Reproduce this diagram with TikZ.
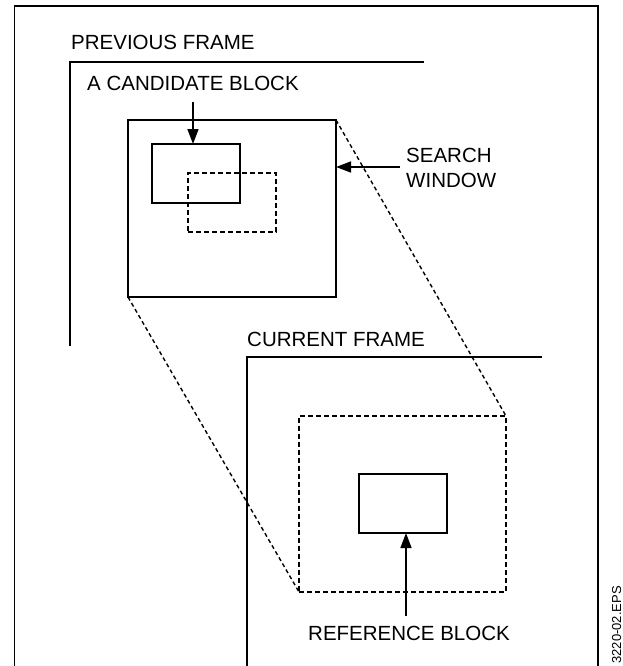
\documentclass[tikz,border=0pt]{standalone}
\usepackage{fontspec}
\setmainfont{Liberation Sans}
\usetikzlibrary{arrows.meta}
\begin{document}
\begin{tikzpicture}[x=1pt,y=-1pt,
  frame/.style={line width=1.6pt},
  box/.style={draw,line width=1.5pt,inner sep=0pt,outer sep=0pt,anchor=north west},
  dbox/.style={box,dash pattern=on 5pt off 3pt},
  link/.style={line width=1.4pt,dash pattern=on 4pt off 3pt},
  lbl/.style={inner sep=0pt,anchor=base west,font=\fontsize{20.5}{25}\selectfont},
  arr/.style={line width=1.5pt,-{Triangle[length=15pt,width=11pt]}}]
\useasboundingbox (0,0) rectangle (623,666);
% outer frame and the two frames
\draw[frame] (14.5,666) -- (14.5,6) -- (598,6) -- (598,666);
\draw[frame] (70,346) -- (70,62) -- (424,62);
\draw[frame] (247,666) -- (247,357) -- (542,357);
% labels
\node[lbl] (prev) at (71,50) {PREVIOUS FRAME};
\node[lbl] (candl) at (87,91) {A CANDIDATE BLOCK};
\node[lbl] (s1) at (406,162) {SEARCH};
\node[lbl] (s2) at (406,187) {WINDOW};
\node[lbl] (curr) at (247,346) {CURRENT FRAME};
\node[lbl] (refl) at (308,640) {REFERENCE BLOCK};
\node[rotate=90,anchor=base east,inner sep=0pt,font=\fontsize{13}{16}\selectfont] (eps) at (621,586) {3220-02.EPS};
% boxes
\node[box,minimum width=208pt,minimum height=177pt] (sw) at (128,120) {};
\node[box,minimum width=88pt,minimum height=59pt] (cand) at (152,144) {};
\node[dbox,minimum width=88pt,minimum height=59pt] (cdash) at (188,173) {};
\node[dbox,minimum width=207pt,minimum height=176pt] (bigd) at (299,416) {};
\node[box,minimum width=88pt,minimum height=59pt] (ref) at (359,474) {};
% projection lines
\draw[link] (sw.north east) -- (bigd.north east);
\draw[link] (sw.south west) -- (bigd.south west);
% arrows
\coordinate (ca) at (193,102);
\draw[arr] (ca) -- (cand.north -| ca);
\coordinate (sa) at (400,167);
\draw[arr] (sa) -- (sa -| sw.east);
\coordinate (ra) at (406,616);
\draw[arr] (ra) -- (ra |- ref.south);
\end{tikzpicture}
\end{document}
